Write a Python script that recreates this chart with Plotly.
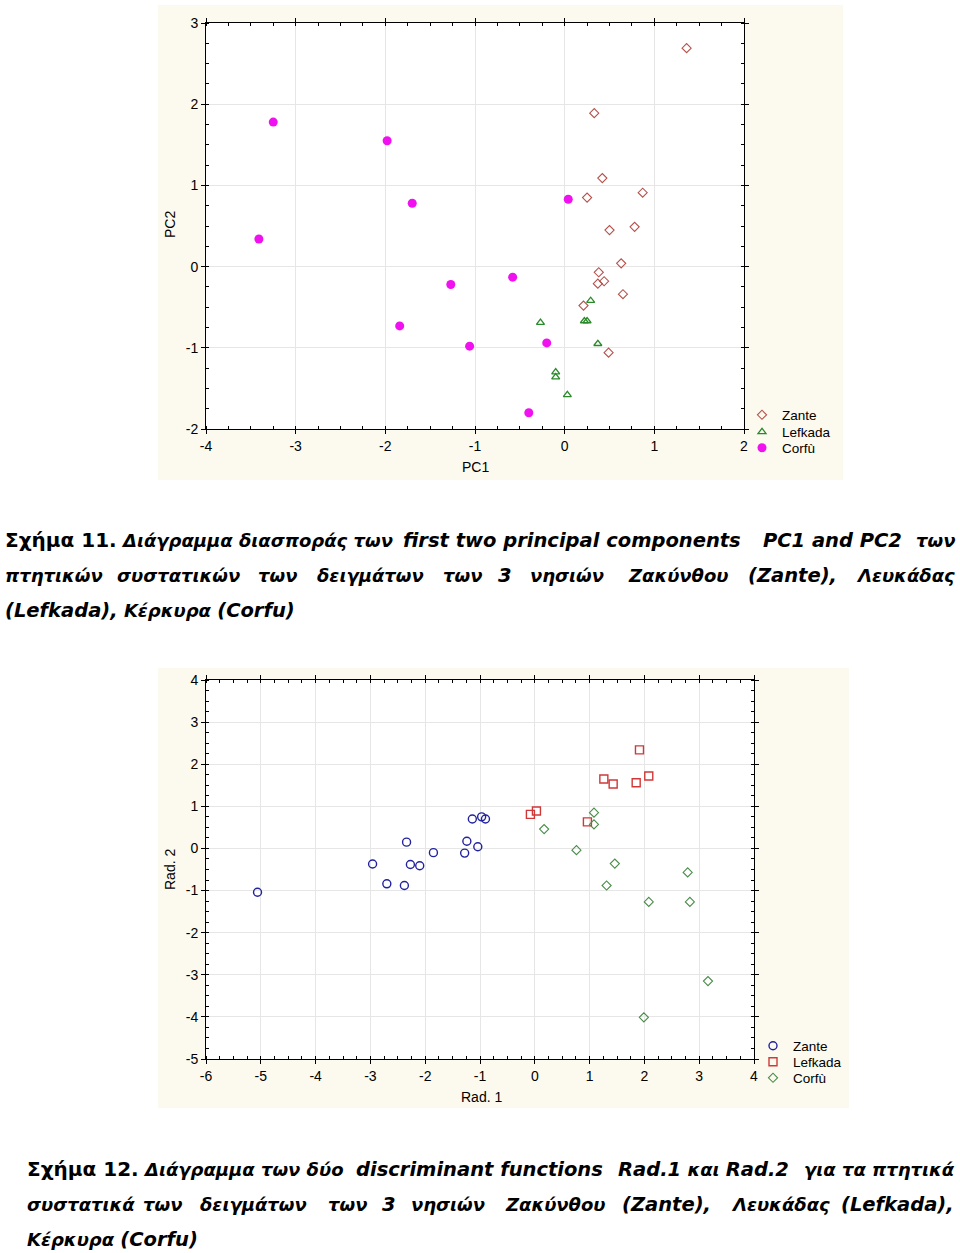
import plotly.graph_objects as go

# ---------------- data: Figure 11 (PCA) ----------------
zante_pc1 = [1.36, 0.33, 0.42, 0.25, 0.87, 0.50, 0.78, 0.63, 0.38, 0.37, 0.44, 0.65, 0.21, 0.49]
zante_pc2 = [2.69, 1.89, 1.09, 0.85, 0.91, 0.45, 0.49, 0.04, -0.07, -0.21, -0.18, -0.34, -0.48, -1.06]
lefkada_pc1 = [0.29, -0.27, 0.22, 0.25, 0.37, -0.10, -0.10, 0.03]
lefkada_pc2 = [-0.42, -0.69, -0.67, -0.67, -0.95, -1.30, -1.36, -1.58]
corfu_pc1 = [-3.25, -1.98, -1.70, -3.41, 0.04, -1.27, -0.58, -1.84, -1.06, -0.20, -0.40]
corfu_pc2 = [1.78, 1.55, 0.78, 0.34, 0.83, -0.22, -0.13, -0.73, -0.98, -0.94, -1.80]

# ---------------- data: Figure 12 (discriminant) ----------------
zante_rad1 = [-5.06, -2.96, -2.70, -2.38, -2.34, -2.27, -2.10, -1.85, -1.28, -1.24, -1.04, -1.14, -0.97, -0.90]
zante_rad2 = [-1.04, -0.37, -0.84, -0.88, 0.15, -0.38, -0.41, -0.10, -0.11, 0.17, 0.04, 0.70, 0.75, 0.70]
lefkada_rad1 = [-0.08, 0.03, 0.96, 1.26, 1.43, 1.85, 2.08, 1.91]
lefkada_rad2 = [0.81, 0.89, 0.63, 1.65, 1.53, 1.56, 1.72, 2.34]
corfu_rad1 = [0.17, 1.08, 1.08, 0.76, 1.46, 1.31, 2.79, 2.08, 2.83, 3.16, 1.99]
corfu_rad2 = [0.46, 0.85, 0.57, -0.04, -0.36, -0.88, -0.57, -1.27, -1.27, -3.15, -4.01]

# tick values
pc1_ticks = [-4, -3, -2, -1, 0, 1, 2]
pc2_ticks = [-2, -1, 0, 1, 2, 3]
rad1_ticks = [-6, -5, -4, -3, -2, -1, 0, 1, 2, 3, 4]
rad2_ticks = [-5, -4, -3, -2, -1, 0, 1, 2, 3, 4]

W, H = 960, 1253
def px(x):
    return x / W
def py(y):
    return 1 - y / H

fig = go.Figure()

# Figure 11 traces
fig.add_trace(go.Scatter(x=zante_pc1, y=zante_pc2, mode="markers", name="Zante",
                         marker=dict(symbol="diamond-open", size=7, color="#B5524C", line=dict(width=1.1)),
                         xaxis="x", yaxis="y", legend="legend"))
fig.add_trace(go.Scatter(x=lefkada_pc1, y=lefkada_pc2, mode="markers", name="Lefkada",
                         marker=dict(symbol="triangle-up-open", size=7, color="#2A8A2A", line=dict(width=1.3)),
                         xaxis="x", yaxis="y", legend="legend2"))
fig.add_trace(go.Scatter(x=corfu_pc1, y=corfu_pc2, mode="markers", name="Corfù",
                         marker=dict(symbol="circle", size=9, color="#F010F0"),
                         xaxis="x", yaxis="y", legend="legend3"))

# Figure 12 traces
fig.add_trace(go.Scatter(x=zante_rad1, y=zante_rad2, mode="markers", name="Zante",
                         marker=dict(symbol="circle-open", size=8, color="#22229E", line=dict(width=1.4)),
                         xaxis="x2", yaxis="y2", legend="legend4"))
fig.add_trace(go.Scatter(x=lefkada_rad1, y=lefkada_rad2, mode="markers", name="Lefkada",
                         marker=dict(symbol="square-open", size=8, color="#D03838", line=dict(width=1.4)),
                         xaxis="x2", yaxis="y2", legend="legend5"))
fig.add_trace(go.Scatter(x=corfu_rad1, y=corfu_rad2, mode="markers", name="Corfù",
                         marker=dict(symbol="diamond-open", size=7, color="#4A8C4A", line=dict(width=1.1)),
                         xaxis="x2", yaxis="y2", legend="legend6"))

SANS = "Liberation Sans, Arial, sans-serif"
tickfont = dict(family=SANS, size=14, color="black")
def axis(domain, rng, ticks, anchor):
    return dict(domain=domain, range=rng, anchor=anchor, automargin=False,
                tickmode="array", tickvals=ticks, ticktext=[str(t) for t in ticks],
                showgrid=True, gridcolor="#E6E6E6", gridwidth=1, zeroline=False,
                showline=True, linecolor="black", linewidth=1, mirror="allticks",
                ticks="outside", ticklen=4, tickcolor="black", tickfont=tickfont,
                minor=dict(tickmode="linear", tick0=0, dtick=0.25, ticks="inside", ticklen=3,
                           tickcolor="black", showgrid=False))

panel = "#FCFAEE"
shapes = [
    dict(type="rect", xref="paper", yref="paper", x0=px(158), x1=px(843), y0=py(480), y1=py(5),
         fillcolor=panel, line=dict(width=0), layer="below"),
    dict(type="rect", xref="paper", yref="paper", x0=px(158), x1=px(849), y0=py(1108), y1=py(668),
         fillcolor=panel, line=dict(width=0), layer="below"),
    dict(type="rect", xref="x domain", yref="y domain", x0=0, x1=1, y0=0, y1=1,
         fillcolor="white", line=dict(width=0), layer="below"),
    dict(type="rect", xref="x2 domain", yref="y2 domain", x0=0, x1=1, y0=0, y1=1,
         fillcolor="white", line=dict(width=0), layer="below"),
]

annotations = []
# axis titles
for t, x, y, ang in [("PC1", 475, 467, 0), ("PC2", 170, 225, -90),
                     ("Rad. 1", 481, 1097, 0), ("Rad. 2", 170, 870, -90)]:
    annotations.append(dict(text=t, x=px(x), y=py(y), xref="paper", yref="paper", textangle=ang,
                            xanchor="center", yanchor="middle", showarrow=False,
                            font=dict(family=SANS, size=14, color="black")))

# captions: Greek text at 18px, Latin text at 19.5px (matches the original widths)
cap_font = dict(family="DejaVu Sans, Verdana, sans-serif", size=18, color="black")
def cap(text, x, y, anchor="left"):
    annotations.append(dict(text=text, x=px(x), y=py(y), xref="paper", yref="paper",
                            xanchor=anchor, yanchor="middle", showarrow=False, font=cap_font))
def L(t):
    return '<span style="font-size:19.5px">' + t + '</span>'
def bi(t):
    return "<b><i>" + t + "</i></b>"
def fig_label(t):
    return '<b><span style="font-size:20px">' + t + '</span></b>'

# Caption 11
cap(fig_label("Σχήμα 11."), 3, 540)
cap(bi("Διάγραμμα διασποράς των"), 257, 540, "center")
cap(bi(L("first two principal components")), 572, 540, "center")
cap(bi(L("PC1 and PC2")), 832, 540, "center")
cap(bi("των"), 957, 540, "right")
cap(bi("πτητικών"), 3, 575)
for w, x in [("συστατικών", 178), ("των", 277), ("δειγμάτων", 370), ("των", 462), (L("3"), 505),
             ("νησιών", 567), ("Ζακύνθου", 678), (L("(Zante),"), 792)]:
    cap(bi(w), x, 575, "center")
cap(bi("Λευκάδας"), 957, 575, "right")
cap(bi(L("(Lefkada),") + " Κέρκυρα " + L("(Corfu)")), 3, 610)

# Caption 12
cap(fig_label("Σχήμα 12."), 25, 1169)
cap(bi("Διάγραμμα των δύο"), 243, 1169, "center")
cap(bi(L("discriminant functions")), 479, 1169, "center")
cap(bi(L("Rad.1") + " και " + L("Rad.2")), 703, 1169, "center")
cap(bi("για τα πτητικά"), 957, 1169, "right")
cap(bi("συστατικά"), 25, 1204)
for w, x in [("των", 162), ("δειγμάτων", 253), ("των", 347), (L("3"), 389), ("νησιών", 448),
             ("Ζακύνθου", 555), (L("(Zante),"), 666), ("Λευκάδας", 780)]:
    cap(bi(w), x, 1204, "center")
cap(bi(L("(Lefkada),")), 956, 1204, "right")
cap(bi("Κέρκυρα " + L("(Corfu)")), 25, 1239)

legfont = dict(family=SANS, size=13.5, color="black")
def leg(x, y):
    return dict(x=px(x), y=py(y), xanchor="left", yanchor="middle", bgcolor="rgba(0,0,0,0)",
                font=legfont, borderwidth=0)

fig.update_layout(
    width=W, height=H, margin=dict(l=0, r=0, t=0, b=0, autoexpand=False),
    paper_bgcolor="white", plot_bgcolor="rgba(0,0,0,0)",
    xaxis=axis([px(206), px(744)], [-4, 2], pc1_ticks, "y"),
    yaxis=axis([py(429), py(23)], [-2, 3], pc2_ticks, "x"),
    xaxis2=axis([px(206), px(754)], [-6, 4], rad1_ticks, "y2"),
    yaxis2=axis([py(1059), py(680)], [-5, 4], rad2_ticks, "x2"),
    shapes=shapes, annotations=annotations,
    legend=leg(742, 415), legend2=leg(742, 432), legend3=leg(742, 448),
    legend4=leg(753, 1046), legend5=leg(753, 1062), legend6=leg(753, 1078),
    showlegend=True,
)

fig.write_html("out.html")
